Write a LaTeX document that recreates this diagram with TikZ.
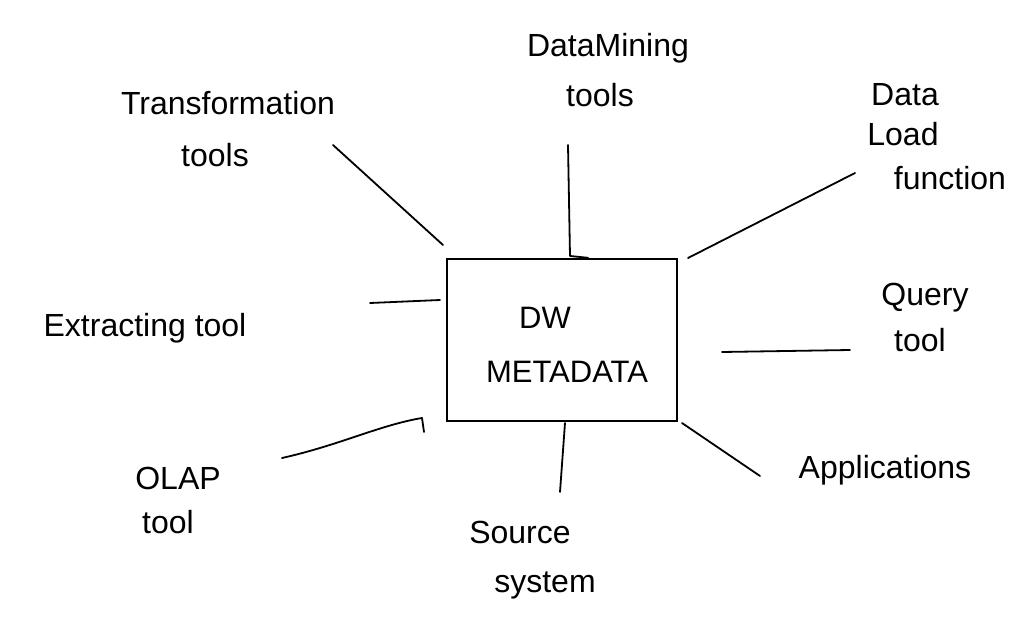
\documentclass[tikz,border=0pt]{standalone}
\usepackage{fontspec}
\setmainfont{Liberation Sans}
\begin{document}
\begin{tikzpicture}[x=1pt,y=-1pt,
  lbl/.style={font=\fontsize{32}{36}\selectfont, inner sep=1pt},
  boxtext/.style={font=\fontsize{31}{36}\selectfont, inner sep=1pt},
  link/.style={line width=1.8pt, line cap=round, line join=round},
  hub/.style={draw, line width=2.4pt, minimum width=230pt, minimum height=162pt}]
\useasboundingbox (0,0) rectangle (1029,624);
\fill[white] (0,0) rectangle (1029,624);

% central box
\node[hub] (box) at (562,340) {};
\node[boxtext] (dw) at (545,318) {DW};
\node[boxtext] (meta) at (567,372) {METADATA};

% labels
\node[lbl] (trans) at (228,103) {Transformation};
\node[lbl] (transb) at (215,155) {tools};
\node[lbl] (mine) at (608,48) {DataMining};
\node[lbl] (mineb) at (600,95) {tools};
\node[lbl] (load) at (905,95) {Data};
\node[lbl] (loadb) at (903,134) {Load};
\node[lbl] (loadc) at (950,178) {function};
\node[lbl] (extr) at (145,328) {Extracting tool};
\node[lbl] (query) at (925,298) {Query};
\node[lbl] (queryb) at (920,340) {tool};
\node[lbl] (olap) at (178,478) {OLAP};
\node[lbl] (olapb) at (168,522) {tool};
\node[lbl] (src) at (520,532) {Source};
\node[lbl] (srcb) at (545,585) {system};
\node[lbl] (app) at (885,470) {Applications};

% free ends of the connectors
\coordinate (tA) at (333,145);
\coordinate (tB) at (443,245);
\coordinate (mA) at (568,145);
\coordinate (mB) at (570,256);
\coordinate (lA) at (855,173);
\coordinate (lB) at (688,258);
\coordinate (eA) at (370,303);
\coordinate (eB) at (440,300);
\coordinate (qA) at (722,352);
\coordinate (qB) at (850,350);
\coordinate (oA) at (282,458);
\coordinate (oB) at (422,418);
\coordinate (sA) at (560,492);
\coordinate (sB) at (565,423);
\coordinate (aA) at (682,423);
\coordinate (aB) at (760,476);

% connectors
\draw[link] (tA) -- (tB);
\draw[link] (mA) -- (mB) -- (box.north -| 588,0);
\draw[link] (lA) -- (lB);
\draw[link] (eA) -- (eB);
\draw[link] (qA) -- (qB);
\draw[link] (oA) .. controls (340,445) and (380,425) .. (oB) -- (424,432);
\draw[link] (sA) -- (sB);
\draw[link] (aA) -- (aB);
\end{tikzpicture}
\end{document}
